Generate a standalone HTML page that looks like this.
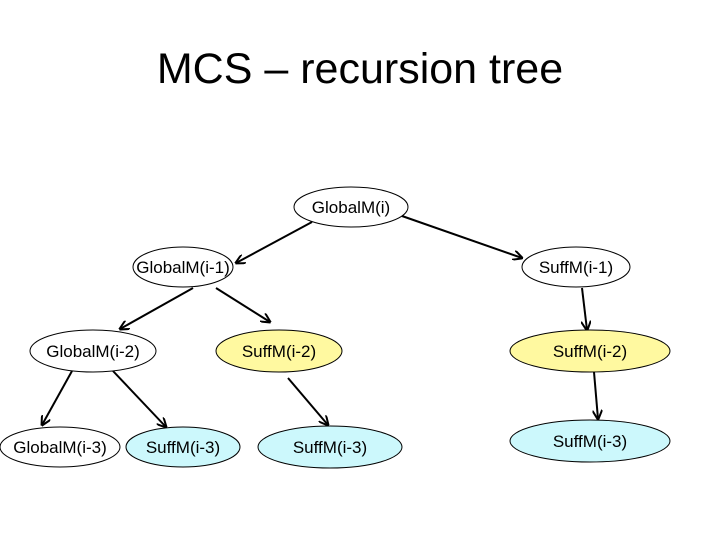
<!DOCTYPE html>
<html><head><style>
body{margin:0;background:#fff;width:720px;height:540px;overflow:hidden}
svg{display:block}
text{font-family:"Liberation Sans",Arial,sans-serif}
</style></head><body>
<svg width="720" height="540" viewBox="0 0 720 540">
<defs><marker id="a" markerWidth="10" markerHeight="10" refX="9" refY="5" orient="auto" markerUnits="userSpaceOnUse"><path d="M0,0 L10,5 L0,10" fill="none" stroke="#000" stroke-width="2"/></marker></defs>
<text x="360" y="83" font-size="43" text-anchor="middle">MCS – recursion tree</text>
<g stroke="#000" stroke-width="2" marker-end="url(#a)">
<line x1="312" y1="222" x2="236" y2="263"/>
<line x1="402" y1="216" x2="522" y2="258"/>
<line x1="193" y1="288" x2="120" y2="329"/>
<line x1="216" y1="288" x2="270" y2="322"/>
<line x1="72" y1="371" x2="42" y2="425"/>
<line x1="113" y1="371" x2="166" y2="427"/>
<line x1="288" y1="378" x2="328" y2="425"/>
<line x1="582" y1="288" x2="587" y2="330"/>
<line x1="594" y1="372" x2="598" y2="419"/>
</g>
<g stroke="#000" stroke-width="1">
<ellipse cx="351" cy="207" rx="57" ry="20" fill="#fff"/>
<ellipse cx="183" cy="267" rx="50" ry="20" fill="#fff"/>
<ellipse cx="576" cy="267" rx="54" ry="20" fill="#fff"/>
<ellipse cx="93" cy="351" rx="63" ry="21" fill="#fff"/>
<ellipse cx="279" cy="351" rx="63" ry="21" fill="#fff9a0"/>
<ellipse cx="590" cy="351" rx="80" ry="21" fill="#fff9a0"/>
<ellipse cx="60" cy="447" rx="60" ry="20" fill="#fff"/>
<ellipse cx="183" cy="447" rx="57" ry="20" fill="#ccf8fc"/>
<ellipse cx="330" cy="447" rx="72" ry="21" fill="#ccf8fc"/>
<ellipse cx="590" cy="441" rx="80" ry="21" fill="#ccf8fc"/>
</g>
<g font-size="17" text-anchor="middle">
<text x="351" y="213">GlobalM(i)</text>
<text x="183" y="273">GlobalM(i-1)</text>
<text x="576" y="273">SuffM(i-1)</text>
<text x="93" y="357">GlobalM(i-2)</text>
<text x="279" y="357">SuffM(i-2)</text>
<text x="590" y="357">SuffM(i-2)</text>
<text x="60" y="453">GlobalM(i-3)</text>
<text x="183" y="453">SuffM(i-3)</text>
<text x="330" y="453">SuffM(i-3)</text>
<text x="590" y="447">SuffM(i-3)</text>
</g>
</svg>
</body></html>
